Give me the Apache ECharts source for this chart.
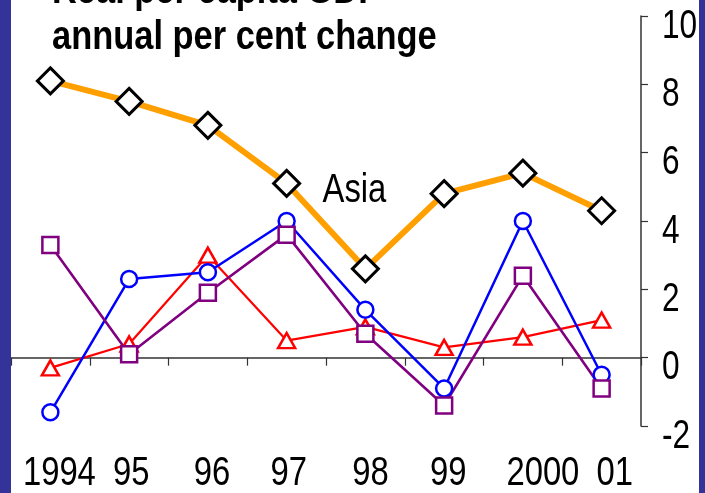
<!DOCTYPE html>
<html>
<head>
<meta charset="utf-8">
<script src="https://cdn.jsdelivr.net/npm/echarts@6/dist/echarts.min.js"></script>
<style>
  html, body { margin: 0; padding: 0; background: #ffffff; }
  #chart { width: 705px; height: 493px; }
</style>
</head>
<body>
<div id="chart"></div>
<script>
// Real per capita GDP, annual per cent change
const years = ['1994', '95', '96', '97', '98', '99', '2000', '01'];
const asia   = [8.1, 7.5, 6.8, 5.1, 2.6, 4.8, 5.4, 4.3];
const blueSeries   = [-1.6, 2.3, 2.5, 4.0, 1.4, -0.9, 4.0, -0.5];
const redSeries    = [-0.3, 0.4, 3.0, 0.5, 0.9, 0.3, 0.6, 1.1];
const purpleSeries = [3.3, 0.1, 1.9, 3.6, 0.7, -1.4, 2.4, -0.9];
const yTickValues = [-2, 0, 2, 4, 6, 8, 10];

// Liberation Sans squeezed horizontally gives a narrow face
const FONT = "'Liberation Sans', Arial, sans-serif";
const NARROW = 0.81;
const FRAME = '#333399';

// horizontal nudges for the year labels (px)
const yearNudge = [9, 2, 4, 2, 5, 4, 20, 13];

function lineSeries(name, data, color, width, symbol, size, borderColor, borderWidth) {
  return {
    name, type: 'line', data,
    lineStyle: { color, width },
    itemStyle: { color: '#ffffff', borderColor, borderWidth },
    symbol, symbolSize: size, showAllSymbol: true,
    emphasis: { disabled: true }
  };
}

function narrowText(x, y, text, font, align, scale) {
  return {
    type: 'text', x, y, scaleX: scale || NARROW, z: 50, silent: true,
    style: { text, font, fill: '#000', align: align || 'left', verticalAlign: 'middle' }
  };
}

const chart = echarts.init(document.getElementById('chart'), null, { renderer: 'canvas' });
chart.setOption({
  animation: false,
  backgroundColor: '#ffffff',
  grid: { left: 11, right: 64, top: 16, bottom: 67, containLabel: false, outerBoundsMode: 'none' },
  xAxis: {
    type: 'category',
    data: years,
    boundaryGap: true,
    axisLine: { show: true, onZero: true, lineStyle: { color: '#333', width: 1.5 } },
    axisTick: { show: true, interval: 0, length: 8, lineStyle: { color: '#333', width: 1.2 } },
    axisLabel: { show: false },
    splitLine: { show: false }
  },
  yAxis: {
    type: 'value',
    position: 'right',
    min: yTickValues[0], max: yTickValues[yTickValues.length - 1], interval: 2,
    axisLine: { show: true, lineStyle: { color: '#333', width: 1.5 } },
    axisTick: { show: true, length: 7, lineStyle: { color: '#333', width: 1.2 } },
    axisLabel: { show: false },
    splitLine: { show: false }
  },
  series: [
    lineSeries('red', redSeries, '#ff0000', 2.2, 'triangle', [17, 15], '#ff0000', 2.5),
    lineSeries('blue', blueSeries, '#0000ff', 2.5, 'circle', 16, '#0000ff', 2.5),
    lineSeries('purple', purpleSeries, '#800080', 2.6, 'rect', 16, '#800080', 2.5),
    lineSeries('Asia', asia, '#ff9f00', 6, 'diamond', 26, '#000000', 3)
  ]
});

// Axis labels, title and the series note, placed through the chart's own scales
const labels = [];
years.forEach((yr, i) => {
  const x = chart.convertToPixel({ xAxisIndex: 0 }, i) + yearNudge[i];
  labels.push(narrowText(x, 474, yr, '40px ' + FONT, 'center', 0.82));
});
const plotRect = chart.getModel().getComponent('grid').coordinateSystem.getRect();
yTickValues.forEach(v => {
  const y = chart.convertToPixel({ yAxisIndex: 0 }, v) + 10.5;
  labels.push(narrowText(plotRect.x + plotRect.width + 21, y, String(v), '40px ' + FONT, 'left', 0.79));
});

chart.setOption({
  graphic: labels.concat([
    narrowText(52, -8.5, 'Real per capita GDP', 'bold 41px ' + FONT, 'left', 0.84),
    narrowText(52, 37.5, 'annual per cent change', 'bold 41px ' + FONT, 'left', 0.84),
    narrowText(322.5, 191, 'Asia', '40px ' + FONT, 'left', 0.82),
    { type: 'rect', x: 0, y: 0, z: 100, silent: true, shape: { width: 11, height: 493 }, style: { fill: FRAME } },
    { type: 'rect', x: 699, y: 0, z: 100, silent: true, shape: { width: 6, height: 493 }, style: { fill: FRAME } }
  ])
});
</script>
</body>
</html>
